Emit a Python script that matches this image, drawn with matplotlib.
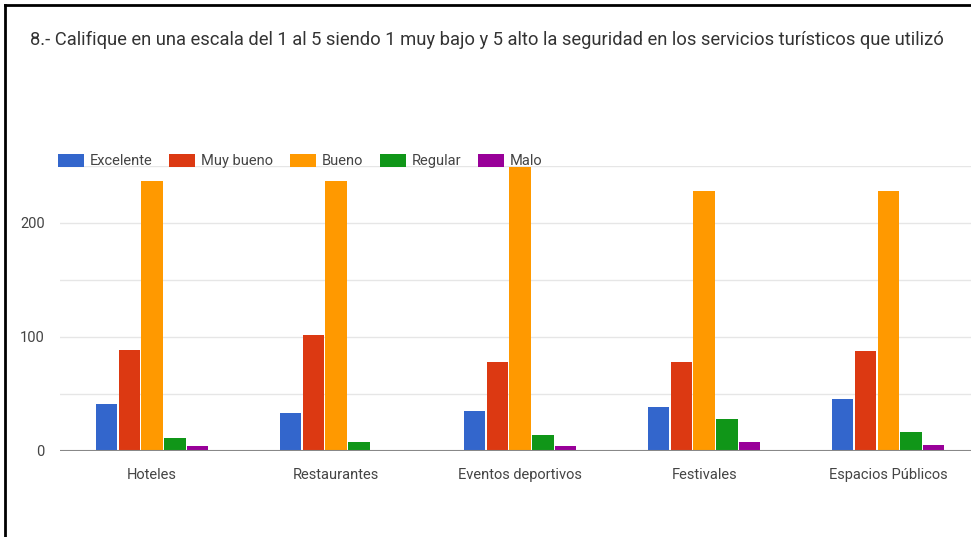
import numpy as np
import matplotlib.pyplot as plt
from matplotlib.lines import Line2D

categorias = ["Hoteles", "Restaurantes", "Eventos deportivos", "Festivales", "Espacios Públicos"]
series = ["Excelente", "Muy bueno", "Bueno", "Regular", "Malo"]
excelente = [41, 33, 35, 39, 46]
muy_bueno = [89, 102, 78, 78, 88]
bueno = [237, 237, 249, 228, 228]
regular = [11, 8, 14, 28, 17]
malo = [4, 1, 4, 8, 5]
colores = ["#3366cc", "#dc3912", "#ff9900", "#109618", "#990099"]
titulo = "8.- Califique en una escala del 1 al 5 siendo 1 muy bajo y 5 alto la seguridad en los servicios turísticos que utilizó"

plt.rcParams['font.family'] = ["Roboto", "DejaVu Sans"]

fig = plt.figure(figsize=(9.71, 5.37), dpi=100)
ax = fig.add_axes([60/971, 86/537, 911/971, 285/537])

valores = [excelente, muy_bueno, bueno, regular, malo]
x = np.arange(len(categorias))
paso = 0.124
for i, (nombre, v) in enumerate(zip(series, valores)):
    ax.bar(x + (i - 2) * paso, v, width=paso - 0.008, color=colores[i],
           label=nombre, zorder=3)

ax.set_xlim(-0.5, 4.45)
ax.set_ylim(0, 250)
ax.set_yticks([0, 100, 200])
ax.set_yticks([50, 150, 250], minor=True)
ax.grid(axis='y', which='both', color='#e6e6e6', linewidth=1, zorder=0)
ax.axhline(0, color='#888888', linewidth=1.5, zorder=4)
ax.set_xticks(x)
ax.set_xticklabels(categorias)
ax.tick_params(axis='both', which='both', length=0, labelsize=10.5, labelcolor='#444444')
ax.tick_params(axis='y', pad=11)
ax.tick_params(axis='x', pad=12)
for s in ax.spines.values():
    s.set_visible(False)

ax.legend(loc='center left', bbox_to_anchor=(-2/911, 1 + 5/285), ncol=5, frameon=False,
          fontsize=10.5, handlelength=1.78, handleheight=1.0, handletextpad=0.4,
          columnspacing=1.15, borderaxespad=0, borderpad=0, labelcolor='#444444')

fig.text(30/971, 1 - 40/537, titulo, fontsize=13.2, color='#333333', va='center', ha='left')

# marco negro (solo arriba e izquierda, captura recortada)
fig.add_artist(Line2D([5/971, 1], [1 - 5/537, 1 - 5/537], color='black', linewidth=2))
fig.add_artist(Line2D([5/971, 5/971], [0, 1 - 5/537], color='black', linewidth=2))

fig.savefig("out.png", dpi=100)
